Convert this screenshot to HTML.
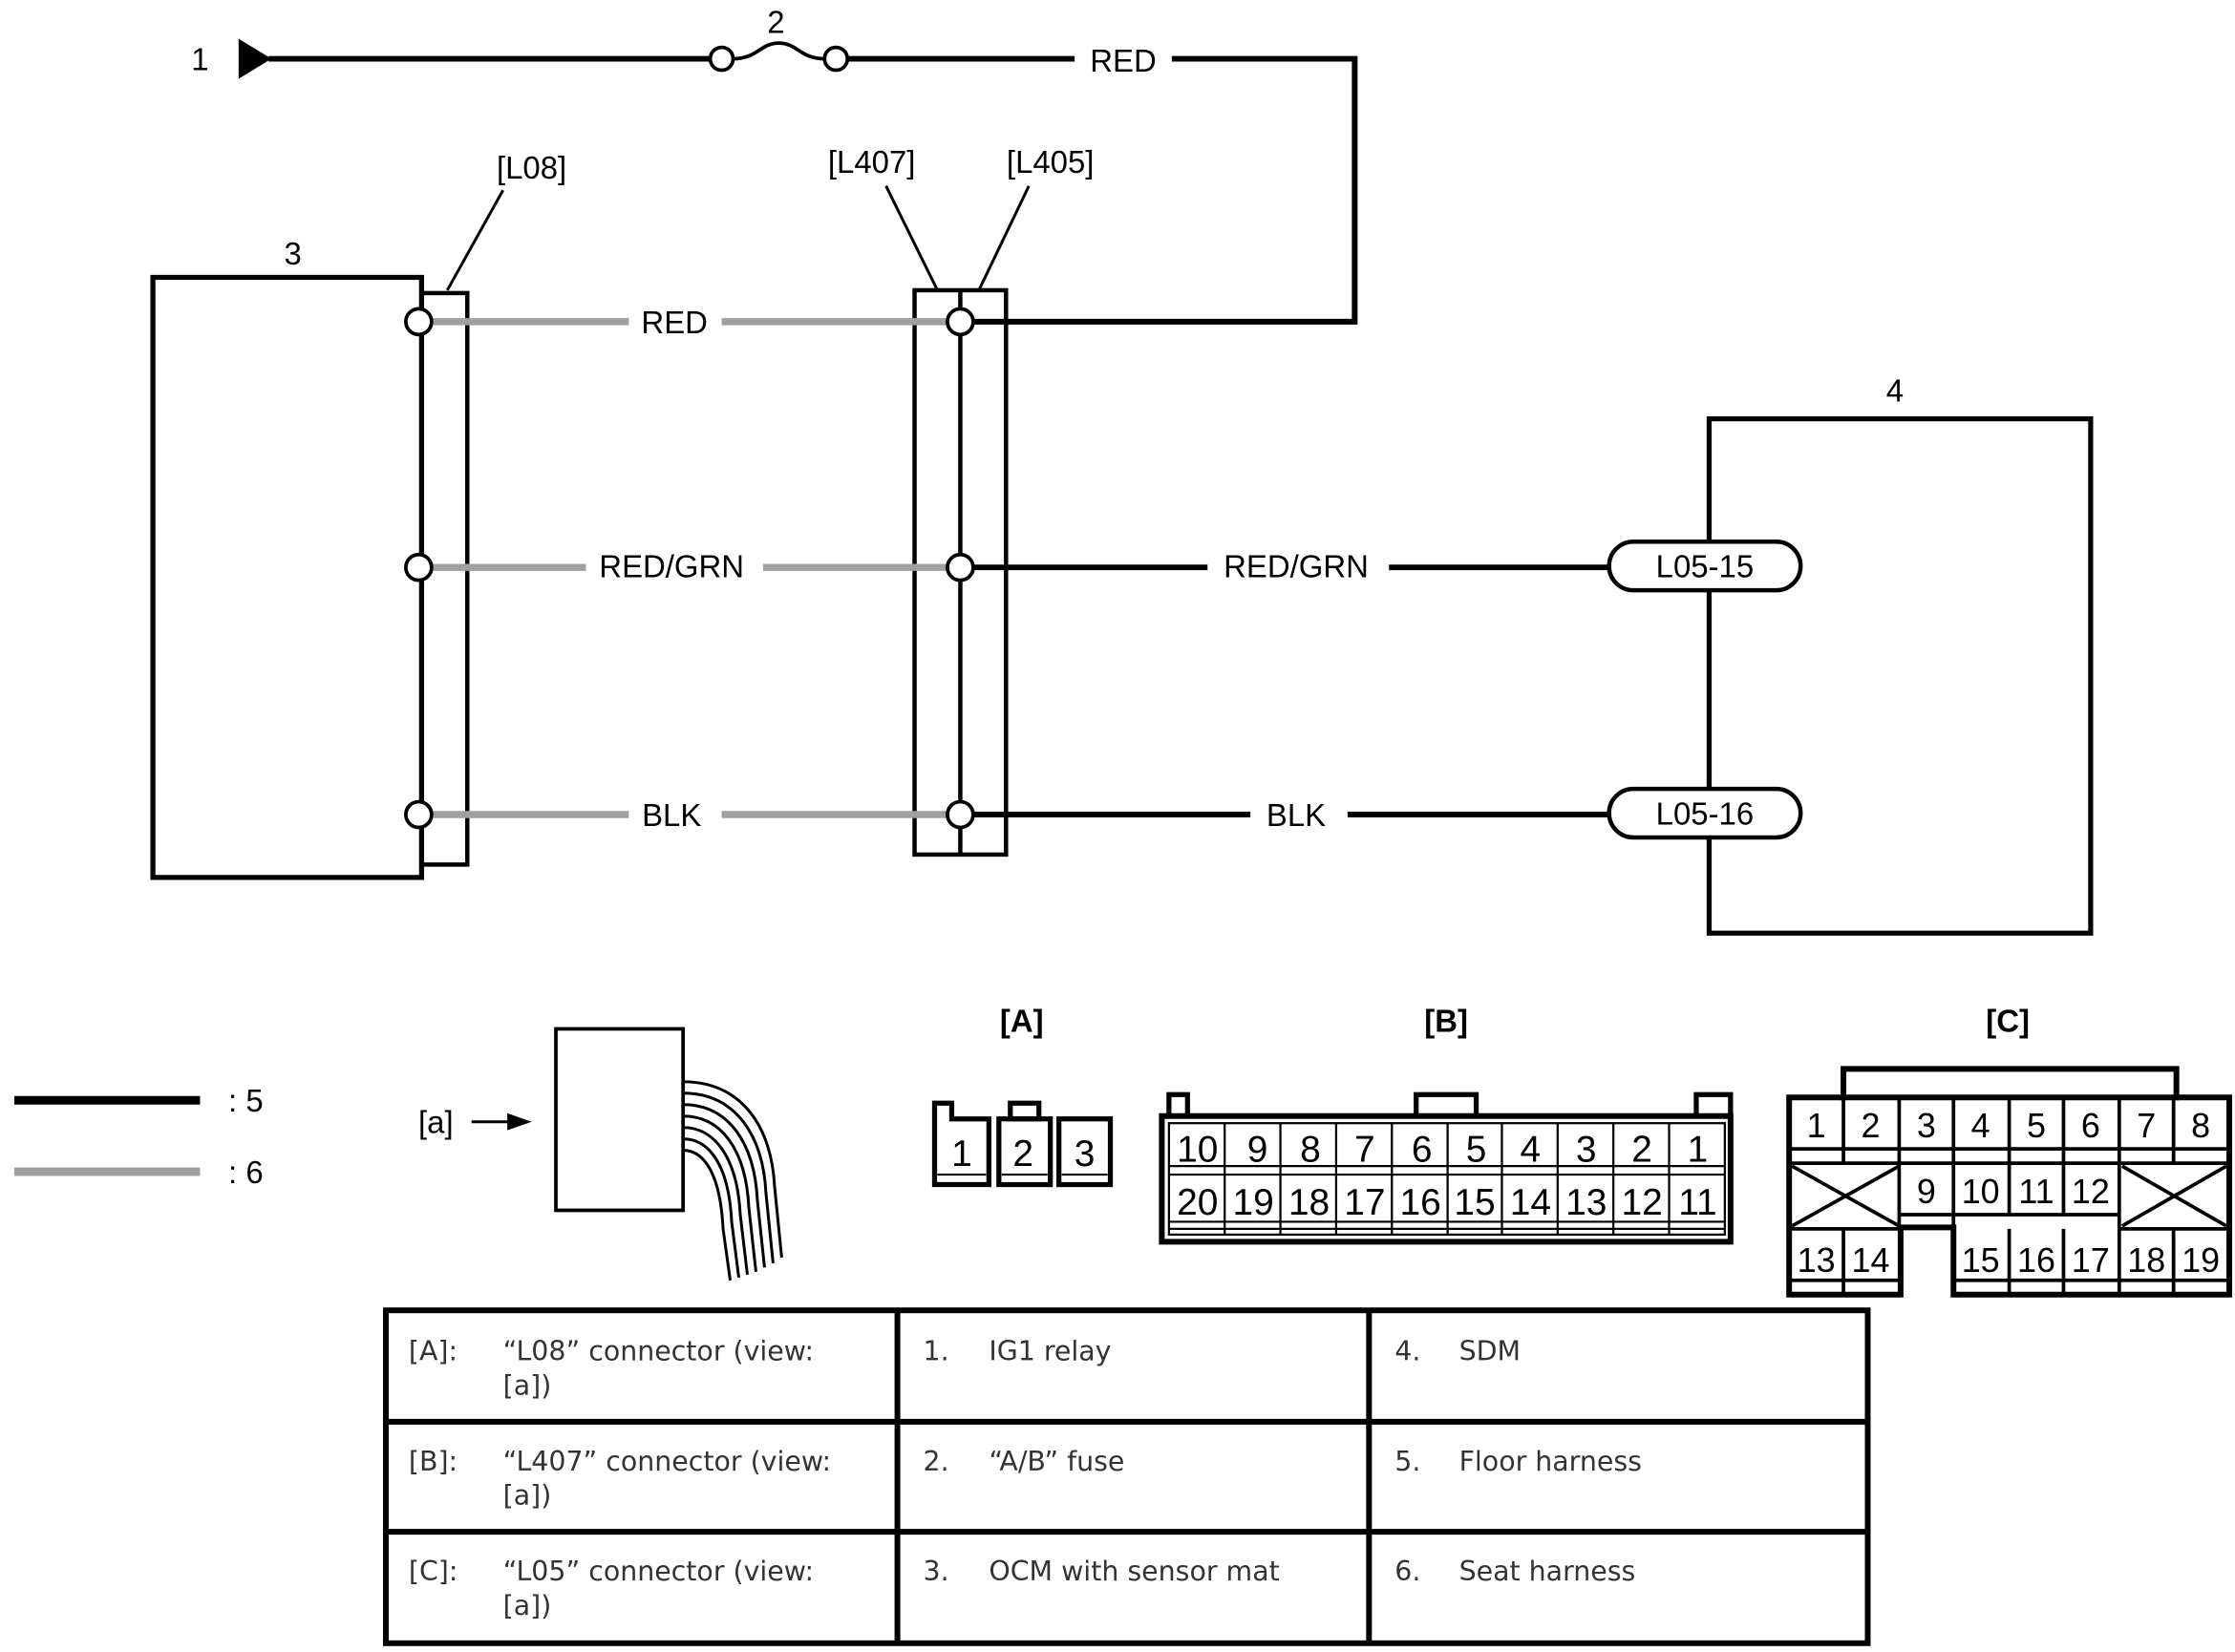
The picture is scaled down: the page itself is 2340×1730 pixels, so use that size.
<!DOCTYPE html>
<html><head><meta charset="utf-8"><style>
html,body{margin:0;padding:0;background:#fff;}
svg{display:block;}
.t{font-family:"Liberation Sans",Arial,sans-serif;fill:#000;}
.d{font-family:"DejaVu Sans",sans-serif;fill:#333;font-size:19px;}
</style></head><body>
<svg width="2340" height="1730" viewBox="0 0 1564 1156" xmlns="http://www.w3.org/2000/svg">
<rect width="1564" height="1156" fill="#fff"/>
<g fill="none" stroke="#000" stroke-width="4">
<!-- top feed -->
<polygon points="167,27 190,41 167,55" fill="#000" stroke="none"/>
<line x1="188" y1="41" x2="497" y2="41"/>
<circle cx="505" cy="41" r="8" stroke-width="2.5" fill="#fff"/>
<circle cx="585" cy="41" r="8" stroke-width="2.5" fill="#fff"/>
<path d="M513,41 C530,41 532,30 545,30 C558,30 560,41 577,41" stroke-width="2.5"/>
<line x1="593" y1="41" x2="752" y2="41"/>
<polyline points="820,41 948,41 948,225 680,225"/>
<!-- boxes -->
<rect x="107" y="194" width="188" height="420" stroke-width="3.5"/>
<rect x="295" y="205" width="32" height="400" stroke-width="3"/>
<rect x="640" y="203" width="64" height="395" stroke-width="3"/>
<line x1="672" y1="203" x2="672" y2="598" stroke-width="3"/>
<rect x="1196" y="293" width="267" height="360" stroke-width="3.5"/>
<!-- leaders -->
<line x1="352" y1="133" x2="313" y2="203" stroke-width="2"/>
<line x1="620" y1="130" x2="656" y2="203" stroke-width="2"/>
<line x1="720" y1="130" x2="685" y2="203" stroke-width="2"/>
<!-- black wires -->
<line x1="680" y1="397" x2="845" y2="397"/>
<line x1="972" y1="397" x2="1127" y2="397"/>
<line x1="680" y1="570" x2="875" y2="570"/>
<line x1="943" y1="570" x2="1127" y2="570"/>
<rect x="1126" y="379" width="134" height="34" rx="17" stroke-width="3" fill="#fff"/>
<rect x="1126" y="552" width="134" height="34" rx="17" stroke-width="3" fill="#fff"/>
</g>
<g stroke="#a0a0a0" stroke-width="5">
<line x1="302" y1="225" x2="440" y2="225"/><line x1="505" y1="225" x2="663" y2="225"/>
<line x1="302" y1="397" x2="410" y2="397"/><line x1="534" y1="397" x2="663" y2="397"/>
<line x1="302" y1="570" x2="440" y2="570"/><line x1="505" y1="570" x2="663" y2="570"/>
</g>
<g fill="#fff" stroke="#000" stroke-width="2.5">
<circle cx="293" cy="225" r="9"/><circle cx="293" cy="397" r="9"/><circle cx="293" cy="570" r="9"/>
<circle cx="672" cy="225" r="9"/><circle cx="672" cy="397" r="9"/><circle cx="672" cy="570" r="9"/>
</g>
<g class="t" font-size="22" text-anchor="middle">
<text x="140" y="49">1</text><text x="543" y="23">2</text>
<text x="786" y="50">RED</text>
<text x="205" y="185">3</text><text x="1326" y="281">4</text>
<text x="372" y="125">[L08]</text><text x="610" y="121">[L407]</text><text x="735" y="121">[L405]</text>
<text x="472" y="233">RED</text><text x="470" y="404">RED/GRN</text><text x="470" y="578">BLK</text>
<text x="907" y="404">RED/GRN</text><text x="907" y="578">BLK</text>
<text x="1193" y="404">L05-15</text><text x="1193" y="577">L05-16</text>
<text x="715" y="722" font-weight="bold">[A]</text><text x="1012" y="722" font-weight="bold">[B]</text><text x="1405" y="722" font-weight="bold">[C]</text>
<text x="305" y="793">[a]</text>
<text x="172" y="778">: 5</text><text x="172" y="828">: 6</text>
</g>
<!-- legend -->
<line x1="10" y1="770" x2="140" y2="770" stroke="#000" stroke-width="6"/>
<line x1="10" y1="820" x2="140" y2="820" stroke="#a0a0a0" stroke-width="6"/>
<!-- [a] view -->
<line x1="330" y1="785" x2="358" y2="785" stroke="#000" stroke-width="2"/>
<polygon points="355,779 372,785 355,791" fill="#000"/>
<rect x="389" y="720" width="89" height="127" fill="none" stroke="#000" stroke-width="2.5"/>
<g fill="none" stroke="#000" stroke-width="2">
<path d="M478,757 C520,757 540,790 542,830 L547,880"/>
<path d="M478,765 C515,765 534,795 536,835 L541,884"/>
<path d="M478,773 C510,773 528,800 530,840 L535,887"/>
<path d="M478,781 C505,781 522,805 524,845 L529,890"/>
<path d="M478,789 C500,789 516,810 518,850 L523,892"/>
<path d="M478,797 C496,797 510,815 512,855 L517,894"/>
<path d="M478,805 C492,805 504,820 506,860 L511,896"/>
</g>
<!-- connector A -->
<g fill="none" stroke="#000" stroke-width="3.5">
<path d="M654,829 L654,772 L666,772 L666,783 L692,783 L692,829 Z"/>
<rect x="699" y="783" width="36" height="46"/>
<rect x="707" y="772" width="20" height="11"/>
<rect x="741" y="783" width="36" height="46"/>
</g>
<g stroke="#000" stroke-width="1.5"><line x1="656" y1="822" x2="690" y2="822"/><line x1="701" y1="822" x2="733" y2="822"/><line x1="743" y1="822" x2="775" y2="822"/></g>
<g class="t" font-size="26" text-anchor="middle"><text x="673" y="816">1</text><text x="716" y="816">2</text><text x="759" y="816">3</text></g>
<!-- connector B -->
<g fill="none" stroke="#000">
<rect x="813" y="781" width="398" height="88" stroke-width="4"/>
<rect x="818" y="786" width="389" height="78" stroke-width="1.5"/>
<rect x="818" y="766" width="13" height="15" stroke-width="3.5"/>
<rect x="991" y="766" width="42" height="15" stroke-width="3.5"/>
<rect x="1187" y="766" width="24" height="15" stroke-width="3.5"/>
<g stroke-width="1.5">
<line x1="818" y1="816" x2="1207" y2="816"/><line x1="818" y1="822" x2="1207" y2="822"/>
<line x1="818" y1="855" x2="1207" y2="855"/><line x1="818" y1="860" x2="1207" y2="860"/>
<line x1="857" y1="786" x2="857" y2="864"/><line x1="896" y1="786" x2="896" y2="864"/><line x1="935" y1="786" x2="935" y2="864"/><line x1="974" y1="786" x2="974" y2="864"/><line x1="1013" y1="786" x2="1013" y2="864"/><line x1="1051" y1="786" x2="1051" y2="864"/><line x1="1090" y1="786" x2="1090" y2="864"/><line x1="1129" y1="786" x2="1129" y2="864"/><line x1="1168" y1="786" x2="1168" y2="864"/>
</g></g>
<g class="t" font-size="26" text-anchor="middle">
<text x="838" y="813">10</text><text x="880" y="813">9</text><text x="917" y="813">8</text><text x="955" y="813">7</text><text x="995" y="813">6</text><text x="1033" y="813">5</text><text x="1071" y="813">4</text><text x="1110" y="813">3</text><text x="1149" y="813">2</text><text x="1188" y="813">1</text>
<text x="838" y="850">20</text><text x="877" y="850">19</text><text x="916" y="850">18</text><text x="955" y="850">17</text><text x="994" y="850">16</text><text x="1032" y="850">15</text><text x="1071" y="850">14</text><text x="1110" y="850">13</text><text x="1149" y="850">12</text><text x="1188" y="850">11</text>
</g>
<!-- connector C -->
<g fill="none" stroke="#000">
<polyline points="1290,770 1290,748 1523,748 1523,770" stroke-width="4"/>
<path d="M1252,906 L1252,768 L1560,768 L1560,906 L1367,906 L1367,859 L1330,859 L1330,906 Z" stroke-width="4"/>
<g stroke-width="2.5">
<line x1="1252" y1="804" x2="1560" y2="804"/>
<line x1="1252" y1="814" x2="1560" y2="814"/>
<line x1="1252" y1="860" x2="1330" y2="860"/>
<line x1="1329" y1="850" x2="1483" y2="850"/>
<line x1="1483" y1="860" x2="1560" y2="860"/>
<line x1="1252" y1="896" x2="1330" y2="896"/>
<line x1="1367" y1="896" x2="1560" y2="896"/>
<line x1="1290" y1="768" x2="1290" y2="814"/>
<line x1="1329" y1="768" x2="1329" y2="860"/><line x1="1367" y1="768" x2="1367" y2="860"/><line x1="1406" y1="768" x2="1406" y2="850"/><line x1="1444" y1="768" x2="1444" y2="850"/><line x1="1483" y1="768" x2="1483" y2="860"/><line x1="1521" y1="768" x2="1521" y2="814"/>
<line x1="1290" y1="860" x2="1290" y2="906"/>
<line x1="1406" y1="860" x2="1406" y2="906"/><line x1="1444" y1="860" x2="1444" y2="906"/><line x1="1483" y1="860" x2="1483" y2="906"/><line x1="1521" y1="860" x2="1521" y2="906"/>
<line x1="1254" y1="816" x2="1329" y2="858"/><line x1="1329" y1="816" x2="1254" y2="858"/>
<line x1="1485" y1="816" x2="1558" y2="858"/><line x1="1558" y1="816" x2="1485" y2="858"/>
</g></g>
<g class="t" font-size="24" text-anchor="middle">
<text x="1271" y="796">1</text><text x="1309" y="796">2</text><text x="1348" y="796">3</text><text x="1386" y="796">4</text><text x="1425" y="796">5</text><text x="1463" y="796">6</text><text x="1502" y="796">7</text><text x="1540" y="796">8</text>
<text x="1348" y="842">9</text><text x="1386" y="842">10</text><text x="1425" y="842">11</text><text x="1463" y="842">12</text>
<text x="1271" y="890">13</text><text x="1309" y="890">14</text><text x="1386" y="890">15</text><text x="1425" y="890">16</text><text x="1463" y="890">17</text><text x="1502" y="890">18</text><text x="1540" y="890">19</text>
</g>
<!-- table -->
<g fill="none" stroke="#000" stroke-width="4">
<rect x="270" y="917" width="1037" height="233"/>
<line x1="628" y1="917" x2="628" y2="1150"/><line x1="958" y1="917" x2="958" y2="1150"/>
<line x1="270" y1="995" x2="1307" y2="995"/><line x1="270" y1="1072" x2="1307" y2="1072"/>
</g>
<g class="d">
<text x="286" y="952">[A]:</text><text x="352" y="952">“L08” connector (view:</text><text x="352" y="976">[a])</text>
<text x="286" y="1029">[B]:</text><text x="352" y="1029">“L407” connector (view:</text><text x="352" y="1053">[a])</text>
<text x="286" y="1106">[C]:</text><text x="352" y="1106">“L05” connector (view:</text><text x="352" y="1130">[a])</text>
<text x="646" y="952">1.</text><text x="692" y="952">IG1 relay</text>
<text x="646" y="1029">2.</text><text x="692" y="1029">“A/B” fuse</text>
<text x="646" y="1106">3.</text><text x="692" y="1106">OCM with sensor mat</text>
<text x="976" y="952">4.</text><text x="1021" y="952">SDM</text>
<text x="976" y="1029">5.</text><text x="1021" y="1029">Floor harness</text>
<text x="976" y="1106">6.</text><text x="1021" y="1106">Seat harness</text>
</g>
</svg>
</body></html>
